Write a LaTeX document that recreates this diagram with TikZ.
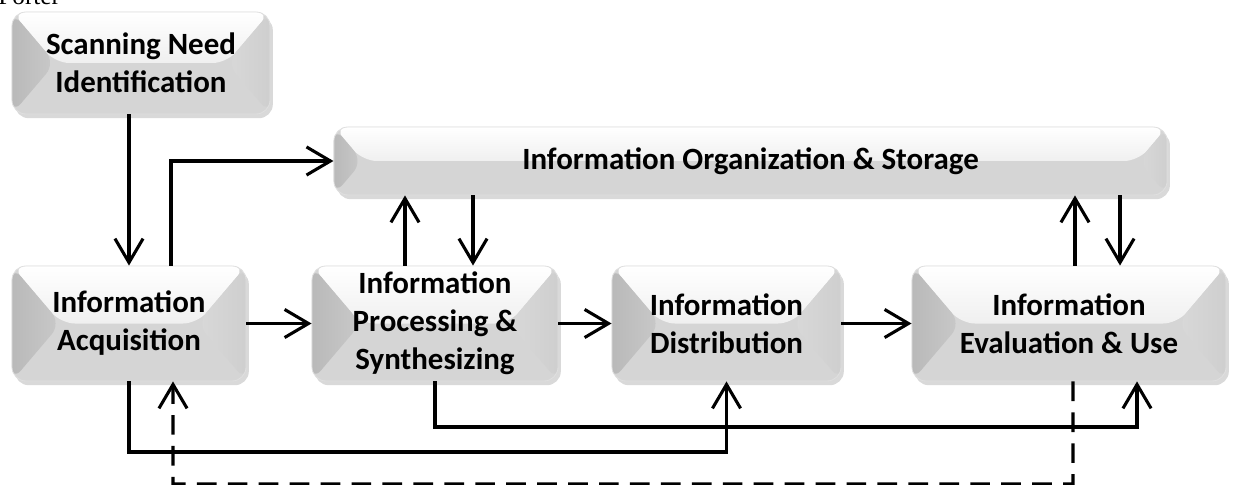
\documentclass[tikz,border=0pt]{standalone}
\usepackage{fontspec}
\setmainfont{Carlito}
\newfontfamily\capfont{Liberation Serif}
\usetikzlibrary{arrows.meta,calc,shadows}

\begin{document}
\begin{tikzpicture}[x=0.025cm, y=-0.025cm, font=\bfseries\fontsize{22}{27}\selectfont]
    \tikzstyle{node_box} = [rounded corners=10pt, draw=gray!25, line width=0.6pt, fill=gray!33, inner sep=0pt, align=center,
        drop shadow={opacity=0.3, shadow xshift=2pt, shadow yshift=-3pt},
        path picture={
            \path (path picture bounding box.north west) coordinate (bNW)
                  (path picture bounding box.north east) coordinate (bNE)
                  (path picture bounding box.south west) coordinate (bSW)
                  (path picture bounding box.south east) coordinate (bSE)
                  ($(bNW)!0.5!(bSW)$) coordinate (bW)
                  ($(bNE)!0.5!(bSE)$) coordinate (bE)
                  ($(bW)!0.85!-90:(bNW)$) coordinate (tW)
                  ($(bE)!0.85!90:(bNE)$) coordinate (tE);
            \shade[top color=white, bottom color=gray!12] (bNW) -- (bNE) -- (tE) -- (tW) -- cycle;
            \shade[left color=gray!55, right color=gray!42] (bNW) -- (tW) -- (bSW) -- cycle;
            \shade[left color=gray!30, right color=gray!38] (bNE) -- (tE) -- (bSE) -- cycle;
        }]
    \tikzstyle{arrow_black} = [-{Straight Barb[length=17pt, width=20pt]}, line width=2.2pt, black]
    \tikzstyle{arrow_dashed} = [arrow_black, dash pattern=on 14pt off 8pt]

    \useasboundingbox (0,0) rectangle (1236,485);

    % cut-off caption line above the figure
    \node[anchor=base west, inner sep=0pt, font=\capfont\fontsize{18}{20}\selectfont] (nCap) at (-2,5) {Porter};

    \node[node_box, minimum width=6.45cm, minimum height=2.55cm] (nScan) at (141,63) {Scanning Need\\Identification};
    \node[node_box, minimum width=20.825cm, minimum height=1.7cm] (nOrg) at (750.5,161) {Information Organization \& Storage};
    \node[node_box, minimum width=5.85cm, minimum height=2.875cm] (nAcq) at (129,323.5) {Information\\Acquisition};
    \node[node_box, minimum width=6.15cm, minimum height=2.875cm] (nProc) at (435,323.5) {Information\\Processing \&\\Synthesizing};
    \node[node_box, minimum width=5.725cm, minimum height=2.875cm] (nDist) at (726.5,323.5) {Information\\Distribution};
    \node[node_box, minimum width=7.85cm, minimum height=2.875cm] (nEval) at (1069,323.5) {Information\\Evaluation \& Use};

    % main flow
    \draw[arrow_black] (nScan.south -| nAcq) -- (nAcq.north);
    \draw[arrow_black] (nAcq) -- (nProc);
    \draw[arrow_black] (nProc) -- (nDist);
    \draw[arrow_black] (nDist) -- (nEval);

    % to and from storage
    \draw[arrow_black] ([xshift=1.05cm]nAcq.north) |- (nOrg.west);
    \draw[arrow_black] ([xshift=-0.75cm]nProc.north) -- ([xshift=-0.75cm]nProc.north |- nOrg.south);
    \draw[arrow_black] ([xshift=0.95cm]nProc.north |- nOrg.south) -- ([xshift=0.95cm]nProc.north);
    \draw[arrow_black] ([xshift=0.15cm]nEval.north) -- ([xshift=0.15cm]nEval.north |- nOrg.south);
    \draw[arrow_black] ([xshift=1.275cm]nEval.north |- nOrg.south) -- ([xshift=1.275cm]nEval.north);

    % feed-forward lines
    \coordinate (cAcqLow) at (129,452);
    \coordinate (cProcLow) at (435,427);
    \coordinate (cBack) at (1073,484);
    \draw[arrow_black] (nAcq.south) -- (cAcqLow) -| (nDist.south);
    \draw[arrow_black] (nProc.south) -- (cProcLow) -| ([xshift=1.7cm]nEval.south);

    % feedback
    \draw[arrow_dashed] ([xshift=0.1cm]nEval.south) -- (cBack) -| ([xshift=1.1cm]nAcq.south);

\end{tikzpicture}
\end{document}
